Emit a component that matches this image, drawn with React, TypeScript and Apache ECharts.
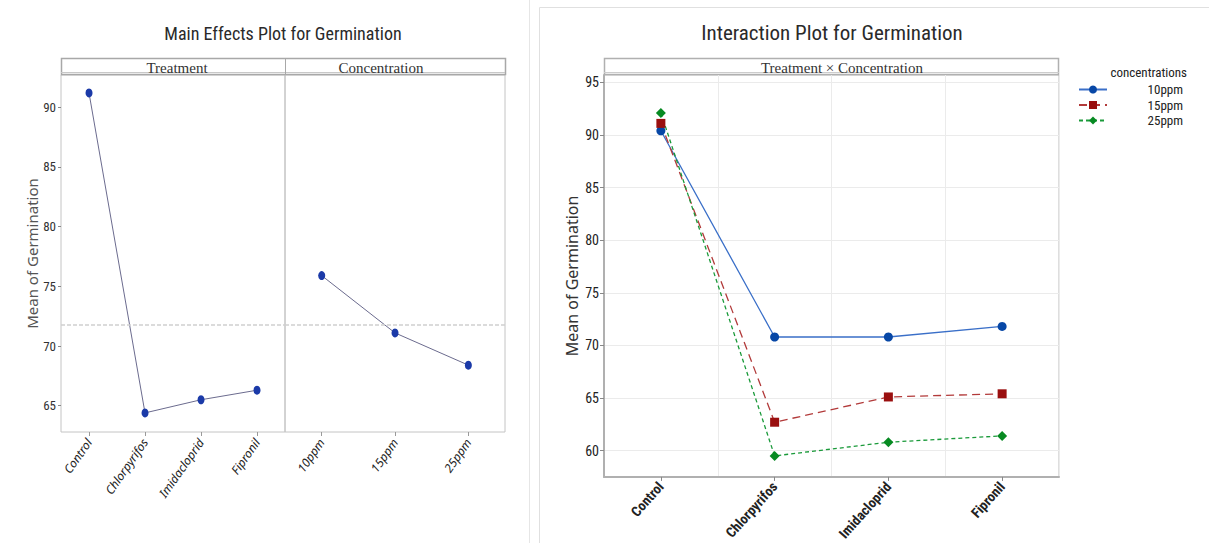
import React, { useEffect, useRef } from "react";
import * as echarts from "echarts";

const treatments = ["Control", "Chlorpyrifos", "Imidacloprid", "Fipronil"];
const concentrations = ["10ppm", "15ppm", "25ppm"];
const treatmentMeans = [91.2, 64.4, 65.5, 66.3];
const concentrationMeans = [75.9, 71.1, 68.4];
const grandMean = 71.8;
const series10ppm = [90.4, 70.8, 70.8, 71.8];
const series15ppm = [91.1, 62.7, 65.1, 65.4];
const series25ppm = [92.1, 59.5, 60.8, 61.4];
const leftTicks = [65, 70, 75, 80, 85, 90];
const rightTicks = [60, 65, 70, 75, 80, 85, 90, 95];

const narrow = "'Liberation Sans Narrow', 'Roboto Condensed', 'Noto Sans', sans-serif";
const serif = "'Liberation Serif', 'DejaVu Serif', serif";
const italicFont = "'Noto Sans', 'Open Sans', sans-serif";

function buildOption(): any {
  return {
    animation: false,
    backgroundColor: "#ffffff",
    grid: [
      { left: 61, top: 75, width: 224, height: 357, show: true, borderColor: "#c4c4c4", borderWidth: 1, backgroundColor: "transparent" },
      { left: 285, top: 75, width: 220, height: 357, show: true, borderColor: "#c4c4c4", borderWidth: 1, backgroundColor: "transparent" },
      { left: 604, top: 75, width: 455, height: 403, show: true, borderColor: "#bdbdbd", borderWidth: 1, backgroundColor: "transparent" },
    ],
    xAxis: [
      {
        gridIndex: 0, type: "category", data: treatments,
        axisLine: { show: false },
        axisTick: { show: true, alignWithLabel: true, length: 4, lineStyle: { color: "#9a9a9a" } },
        axisLabel: { rotate: 55, fontStyle: "italic", fontSize: 12, color: "#222", fontFamily: italicFont, margin: 8 },
        splitLine: { show: false },
      },
      {
        gridIndex: 1, type: "category", data: concentrations,
        axisLine: { show: false },
        axisTick: { show: true, alignWithLabel: true, length: 4, lineStyle: { color: "#9a9a9a" } },
        axisLabel: { rotate: 55, fontStyle: "italic", fontSize: 12, color: "#222", fontFamily: italicFont, margin: 8 },
        splitLine: { show: false },
      },
      {
        gridIndex: 2, type: "category", data: treatments,
        axisLine: { show: true, lineStyle: { color: "#b0b0b0", width: 2 } },
        axisTick: { show: true, alignWithLabel: true, length: 4, lineStyle: { color: "#888" } },
        axisLabel: { rotate: 48, fontWeight: "bold", fontSize: 14, color: "#222", fontFamily: narrow, margin: 7 },
        splitLine: { show: true, lineStyle: { color: "#ebebeb", width: 1 } },
      },
    ],
    yAxis: [
      {
        gridIndex: 0, type: "value", min: 62.8, max: 92.7,
        name: "Mean of Germination", nameLocation: "middle", nameGap: 22,
        nameTextStyle: { fontSize: 15, color: "#555", fontFamily: "'Noto Sans', sans-serif" },
        axisLine: { show: false },
        axisTick: { show: true, length: 3, lineStyle: { color: "#888" }, customValues: leftTicks },
        axisLabel: { customValues: leftTicks, fontSize: 13, color: "#333", fontFamily: narrow, margin: 5 },
        splitLine: { show: false },
      },
      {
        gridIndex: 1, type: "value", min: 62.8, max: 92.7, show: false,
        splitLine: { show: false },
      },
      {
        gridIndex: 2, type: "value", min: 57.5, max: 95.7,
        name: "Mean of Germination", nameLocation: "middle", nameGap: 24,
        nameTextStyle: { fontSize: 16, color: "#333", fontFamily: "'Noto Sans', sans-serif" },
        axisLine: { show: true, lineStyle: { color: "#b0b0b0", width: 2 } },
        axisTick: { show: true, length: 4, lineStyle: { color: "#888" }, customValues: rightTicks },
        axisLabel: { customValues: rightTicks, fontSize: 14, color: "#222", fontFamily: narrow, margin: 5 },
        splitLine: { show: true, lineStyle: { color: "#ebebeb", width: 1 } },
      },
    ],
    legend: {
      orient: "vertical", left: 1078, top: 83,
      itemWidth: 28, itemHeight: 10, itemGap: 2.5, padding: 0,
      data: ["10ppm", "15ppm", "25ppm"],
      formatter: "{a|{name}}",
      textStyle: { rich: { a: { width: 71, align: "right", fontSize: 13, lineHeight: 14, fontFamily: narrow, color: "#222" } } },
    },
    series: [
      {
        name: "Treatment", type: "line", xAxisIndex: 0, yAxisIndex: 0, data: treatmentMeans,
        symbol: "circle", symbolSize: [7, 9],
        itemStyle: { color: "#1b3aa8" }, lineStyle: { color: "#6b6b8e", width: 1 },
        markLine: {
          silent: true, symbol: "none", label: { show: false },
          lineStyle: { color: "#cfcfcf", type: [4, 2], width: 1.5 },
          data: [{ yAxis: grandMean }],
        },
      },
      {
        name: "Concentration", type: "line", xAxisIndex: 1, yAxisIndex: 1, data: concentrationMeans,
        symbol: "circle", symbolSize: [7, 9],
        itemStyle: { color: "#1b3aa8" }, lineStyle: { color: "#6b6b8e", width: 1 },
        markLine: {
          silent: true, symbol: "none", label: { show: false },
          lineStyle: { color: "#cfcfcf", type: [4, 2], width: 1.5 },
          data: [{ yAxis: grandMean }],
        },
      },
      {
        name: "10ppm", type: "line", xAxisIndex: 2, yAxisIndex: 2, data: series10ppm,
        symbol: "circle", symbolSize: 9,
        itemStyle: { color: "#0747a6" }, lineStyle: { color: "#3a6fc8", width: 1.3, type: "solid" },
      },
      {
        name: "15ppm", type: "line", xAxisIndex: 2, yAxisIndex: 2, data: series15ppm,
        symbol: "rect", symbolSize: 9,
        itemStyle: { color: "#9a0f0f" }, lineStyle: { color: "#b23a3a", width: 1.3, type: [8, 5] },
      },
      {
        name: "25ppm", type: "line", xAxisIndex: 2, yAxisIndex: 2, data: series25ppm,
        symbol: "diamond", symbolSize: 10,
        itemStyle: { color: "#078a22" }, lineStyle: { color: "#1a9a3a", width: 1.3, type: [4, 3] },
      },
    ],
    graphic: [
      { type: "line", shape: { x1: 529.5, y1: 0, x2: 529.5, y2: 543 }, style: { stroke: "#e6e6e6", lineWidth: 1 } },
      { type: "polyline", shape: { points: [[539.5, 543], [539.5, 7.5], [1209, 7.5]] }, style: { stroke: "#e0e0e0", lineWidth: 1, fill: null } },
      { type: "text", x: 283, y: 33, style: { text: "Main Effects Plot for Germination", fontSize: 18, fontFamily: narrow, fill: "#2a2a2a", textAlign: "center", textVerticalAlign: "middle" } },
      { type: "text", x: 832, y: 33, style: { text: "Interaction Plot for Germination", fontSize: 21, fontFamily: narrow, fill: "#2a2a2a", textAlign: "center", textVerticalAlign: "middle" } },
      // left headers
      { type: "rect", shape: { x: 61.5, y: 58.5, width: 444, height: 16 }, style: { fill: "#ffffff", stroke: "#a8a8a8", lineWidth: 1.5 } },
      { type: "line", shape: { x1: 61, y1: 72.5, x2: 505, y2: 72.5 }, style: { stroke: "#c8c8c8", lineWidth: 1 } },
      { type: "line", shape: { x1: 285.5, y1: 58, x2: 285.5, y2: 75 }, style: { stroke: "#a8a8a8", lineWidth: 1 } },
      { type: "text", x: 177, y: 68, style: { text: "Treatment", fontSize: 15, fontFamily: serif, fill: "#333", textAlign: "center", textVerticalAlign: "middle" } },
      { type: "text", x: 381, y: 68, style: { text: "Concentration", fontSize: 15, fontFamily: serif, fill: "#333", textAlign: "center", textVerticalAlign: "middle" } },
      // right header
      { type: "rect", shape: { x: 604.5, y: 58.5, width: 454, height: 16 }, style: { fill: "#ffffff", stroke: "#b0b0b0", lineWidth: 1.5 } },
      { type: "line", shape: { x1: 604, y1: 72.5, x2: 1059, y2: 72.5 }, style: { stroke: "#cccccc", lineWidth: 1 } },
      { type: "text", x: 842, y: 68, style: { text: "Treatment × Concentration", fontSize: 15, fontFamily: serif, fill: "#333", textAlign: "center", textVerticalAlign: "middle" } },
      // legend title
      { type: "text", x: 1187, y: 72, style: { text: "concentrations", fontSize: 13, fontFamily: narrow, fill: "#222", textAlign: "right", textVerticalAlign: "middle" } },
    ],
  };
}

export default function App() {
  const ref = useRef<HTMLDivElement>(null);
  useEffect(() => {
    if (!ref.current) return;
    const chart = echarts.init(ref.current, null, { renderer: "svg" });
    chart.setOption(buildOption());
    return () => chart.dispose();
  }, []);
  return (
    <div
      ref={ref}
      style={{ position: "fixed", left: 0, top: 0, width: 1209, height: 543, background: "#ffffff" }}
    />
  );
}
